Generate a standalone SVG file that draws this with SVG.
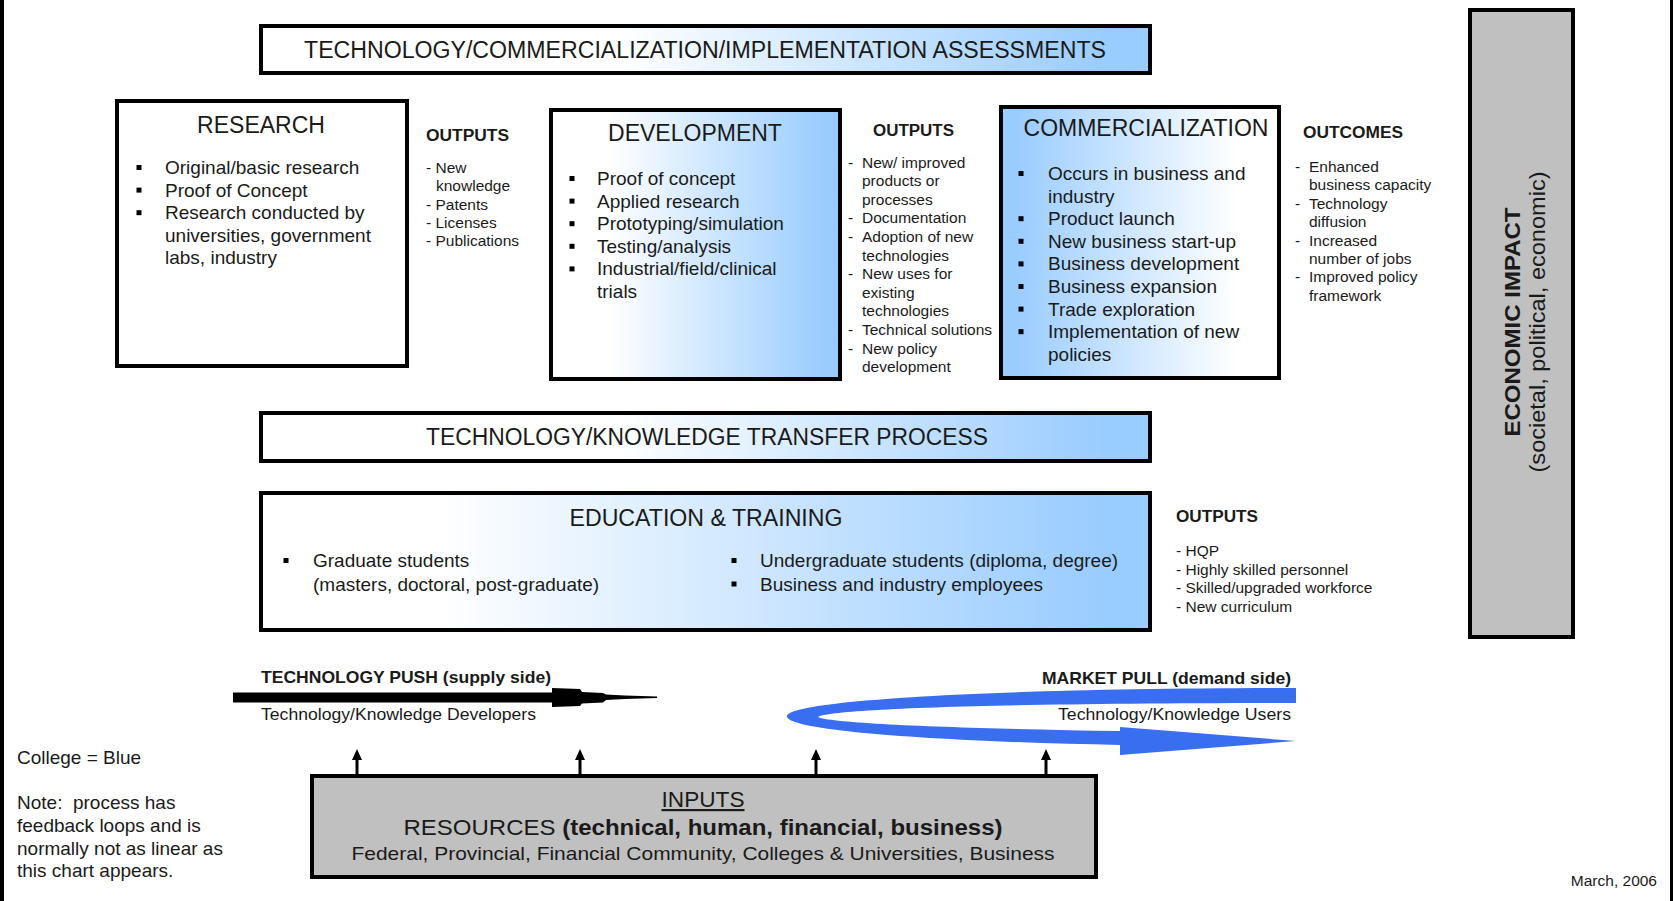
<svg xmlns="http://www.w3.org/2000/svg" width="1673" height="901" viewBox="0 0 1673 901">
  <style>
    text { font-family: "Liberation Sans", Arial, sans-serif; fill: #1a1a1a; }
    .box { stroke: #000; stroke-width: 4; }
    .title { font-size: 23px; text-anchor: middle; }
    .band { font-size: 23px; text-anchor: middle; }
    .item { font-size: 19px; }
    .small { font-size: 15.5px; }
    .head { font-size: 16px; font-weight: bold; }
    .lbl { font-size: 17px; }
    .bold { font-weight: bold; }
    .bullet { fill: #000; }
    .up { stroke: #000; stroke-width: 3; fill: none; }
    .uphead { fill: #000; }
  </style>
  <defs>
    <linearGradient id="toBlue" x1="0" y1="0" x2="1" y2="0">
      <stop offset="0" stop-color="#ffffff"/>
      <stop offset="0.2" stop-color="#ffffff"/>
      <stop offset="0.95" stop-color="#99ccff"/>
    </linearGradient>
    <linearGradient id="fromBlue" x1="0" y1="0" x2="1" y2="0">
      <stop offset="0.05" stop-color="#99ccff"/>
      <stop offset="0.85" stop-color="#ffffff"/>
      <stop offset="1" stop-color="#ffffff"/>
    </linearGradient>
    <linearGradient id="bandBlue" x1="0" y1="0" x2="1" y2="0">
      <stop offset="0" stop-color="#ffffff"/>
      <stop offset="0.4" stop-color="#ffffff"/>
      <stop offset="0.95" stop-color="#99ccff"/>
    </linearGradient>
  </defs>

  <rect width="1673" height="901" fill="#ffffff"/>
  <!-- page frame edges -->
  <rect x="0" y="0" width="4" height="901" fill="#000"/>
  <rect x="1670" y="0" width="3" height="901" fill="#000"/>

  <!-- assessments banner -->
  <g id="assessments">
    <rect class="box" x="261" y="26" width="889" height="47" fill="url(#bandBlue)"/>
    <text class="band" x="705" y="58" textLength="802" lengthAdjust="spacingAndGlyphs">TECHNOLOGY/COMMERCIALIZATION/IMPLEMENTATION ASSESSMENTS</text>
  </g>

  <!-- research -->
  <g id="research">
    <rect class="box" x="117" y="101" width="290" height="265" fill="#ffffff"/>
    <text class="title" x="261" y="133">RESEARCH</text>
    <rect class="bullet" x="136.5" y="165" width="5" height="5"/>
    <rect class="bullet" x="136.5" y="187.6" width="5" height="5"/>
    <rect class="bullet" x="136.5" y="210.2" width="5" height="5"/>
    <text class="item" x="165" y="174">Original/basic research</text>
    <text class="item" x="165" y="196.6">Proof of Concept</text>
    <text class="item" x="165" y="219.2">Research conducted by</text>
    <text class="item" x="165" y="241.8">universities, government</text>
    <text class="item" x="165" y="264.4">labs, industry</text>
  </g>

  <g id="research-outputs">
    <text class="head" x="426" y="141" textLength="83" lengthAdjust="spacingAndGlyphs">OUTPUTS</text>
    <text class="small" x="426" y="173">- New</text>
    <text class="small" x="436" y="191.3">knowledge</text>
    <text class="small" x="426" y="209.6">- Patents</text>
    <text class="small" x="426" y="227.9">- Licenses</text>
    <text class="small" x="426" y="246.2">- Publications</text>
  </g>

  <!-- development -->
  <g id="development">
    <rect class="box" x="551" y="110" width="289" height="269" fill="url(#toBlue)"/>
    <text class="title" x="695" y="141">DEVELOPMENT</text>
    <rect class="bullet" x="569.5" y="176" width="5" height="5"/>
    <rect class="bullet" x="569.5" y="198.6" width="5" height="5"/>
    <rect class="bullet" x="569.5" y="221.2" width="5" height="5"/>
    <rect class="bullet" x="569.5" y="243.8" width="5" height="5"/>
    <rect class="bullet" x="569.5" y="266.4" width="5" height="5"/>
    <text class="item" x="597" y="185">Proof of concept</text>
    <text class="item" x="597" y="207.6">Applied research</text>
    <text class="item" x="597" y="230.2">Prototyping/simulation</text>
    <text class="item" x="597" y="252.8">Testing/analysis</text>
    <text class="item" x="597" y="275.4">Industrial/field/clinical</text>
    <text class="item" x="597" y="298">trials</text>
  </g>

  <g id="development-outputs">
    <text class="head" x="873" y="136" textLength="81" lengthAdjust="spacingAndGlyphs">OUTPUTS</text>
    <text class="small" x="848" y="167.5">-</text>
    <text class="small" x="862" y="167.5">New/ improved</text>
    <text class="small" x="862" y="186.1">products or</text>
    <text class="small" x="862" y="204.7">processes</text>
    <text class="small" x="848" y="223.3">-</text>
    <text class="small" x="862" y="223.3">Documentation</text>
    <text class="small" x="848" y="241.9">-</text>
    <text class="small" x="862" y="241.9">Adoption of new</text>
    <text class="small" x="862" y="260.5">technologies</text>
    <text class="small" x="848" y="279.1">-</text>
    <text class="small" x="862" y="279.1">New uses for</text>
    <text class="small" x="862" y="297.7">existing</text>
    <text class="small" x="862" y="316.3">technologies</text>
    <text class="small" x="848" y="334.9">-</text>
    <text class="small" x="862" y="334.9">Technical solutions</text>
    <text class="small" x="848" y="353.5">-</text>
    <text class="small" x="862" y="353.5">New policy</text>
    <text class="small" x="862" y="372.1">development</text>
  </g>

  <!-- commercialization -->
  <g id="commercialization">
    <rect class="box" x="1001" y="107" width="278" height="271" fill="url(#fromBlue)"/>
    <text class="title" x="1146" y="136">COMMERCIALIZATION</text>
    <rect class="bullet" x="1018.5" y="171" width="5" height="5"/>
    <rect class="bullet" x="1018.5" y="216.2" width="5" height="5"/>
    <rect class="bullet" x="1018.5" y="238.8" width="5" height="5"/>
    <rect class="bullet" x="1018.5" y="261.4" width="5" height="5"/>
    <rect class="bullet" x="1018.5" y="284" width="5" height="5"/>
    <rect class="bullet" x="1018.5" y="306.6" width="5" height="5"/>
    <rect class="bullet" x="1018.5" y="329.2" width="5" height="5"/>
    <text class="item" x="1048" y="180">Occurs in business and</text>
    <text class="item" x="1048" y="202.6">industry</text>
    <text class="item" x="1048" y="225.2">Product launch</text>
    <text class="item" x="1048" y="247.8">New business start-up</text>
    <text class="item" x="1048" y="270.4">Business development</text>
    <text class="item" x="1048" y="293">Business expansion</text>
    <text class="item" x="1048" y="315.6">Trade exploration</text>
    <text class="item" x="1048" y="338.2">Implementation of new</text>
    <text class="item" x="1048" y="360.8">policies</text>
  </g>

  <g id="outcomes">
    <text class="head" x="1303" y="138" textLength="100" lengthAdjust="spacingAndGlyphs">OUTCOMES</text>
    <text class="small" x="1295" y="172">-</text>
    <text class="small" x="1309" y="172">Enhanced</text>
    <text class="small" x="1309" y="190.4">business capacity</text>
    <text class="small" x="1295" y="208.8">-</text>
    <text class="small" x="1309" y="208.8">Technology</text>
    <text class="small" x="1309" y="227.2">diffusion</text>
    <text class="small" x="1295" y="245.6">-</text>
    <text class="small" x="1309" y="245.6">Increased</text>
    <text class="small" x="1309" y="264">number of jobs</text>
    <text class="small" x="1295" y="282.4">-</text>
    <text class="small" x="1309" y="282.4">Improved policy</text>
    <text class="small" x="1309" y="300.8">framework</text>
  </g>

  <!-- economic impact column -->
  <g id="economic-impact">
    <rect class="box" x="1470" y="10" width="103" height="627" fill="#c0c0c0"/>
    <text class="bold" font-size="22" text-anchor="middle" transform="translate(1520,322) rotate(-90)" textLength="229" lengthAdjust="spacingAndGlyphs">ECONOMIC IMPACT</text>
    <text font-size="22" text-anchor="middle" transform="translate(1545,322) rotate(-90)" textLength="301" lengthAdjust="spacingAndGlyphs">(societal, political, economic)</text>
  </g>

  <!-- transfer process band -->
  <g id="transfer">
    <rect class="box" x="261" y="413" width="889" height="48" fill="url(#bandBlue)"/>
    <text class="band" x="707" y="445" textLength="562" lengthAdjust="spacingAndGlyphs">TECHNOLOGY/KNOWLEDGE TRANSFER PROCESS</text>
  </g>

  <!-- education and training -->
  <g id="education">
    <rect class="box" x="261" y="493" width="889" height="137" fill="url(#toBlue)"/>
    <text class="band" x="706" y="526" textLength="273" lengthAdjust="spacingAndGlyphs">EDUCATION &amp; TRAINING</text>
    <rect class="bullet" x="283.5" y="558" width="5" height="5"/>
    <text class="item" x="313" y="567">Graduate students</text>
    <text class="item" x="313" y="590.5">(masters, doctoral, post-graduate)</text>
    <rect class="bullet" x="731.5" y="558" width="5" height="5"/>
    <rect class="bullet" x="731.5" y="581.5" width="5" height="5"/>
    <text class="item" x="760" y="567">Undergraduate students (diploma, degree)</text>
    <text class="item" x="760" y="590.5">Business and industry employees</text>
  </g>

  <g id="education-outputs">
    <text class="head" x="1176" y="522" textLength="82" lengthAdjust="spacingAndGlyphs">OUTPUTS</text>
    <text class="small" x="1176" y="556">- HQP</text>
    <text class="small" x="1176" y="574.5">- Highly skilled personnel</text>
    <text class="small" x="1176" y="593">- Skilled/upgraded workforce</text>
    <text class="small" x="1176" y="611.5">- New curriculum</text>
  </g>

  <!-- inputs -->
  <g id="inputs">
    <rect class="box" x="312" y="776" width="784" height="101" fill="#c0c0c0"/>
    <text font-size="22" text-anchor="middle" x="703" y="807" text-decoration="underline" textLength="83" lengthAdjust="spacingAndGlyphs">INPUTS</text>
    <text font-size="22" text-anchor="middle" x="703" y="835" textLength="599" lengthAdjust="spacingAndGlyphs">RESOURCES <tspan class="bold">(technical, human, financial, business)</tspan></text>
    <text font-size="19" text-anchor="middle" x="703" y="860" textLength="703" lengthAdjust="spacingAndGlyphs">Federal, Provincial, Financial Community, Colleges &amp; Universities, Business</text>
  </g>

  <!-- push / pull flows -->
  <g id="technology-push">
    <text class="lbl bold" x="261" y="682.5" textLength="290" lengthAdjust="spacingAndGlyphs">TECHNOLOGY PUSH (supply side)</text>
    <text class="lbl" x="261" y="720" textLength="275" lengthAdjust="spacingAndGlyphs">Technology/Knowledge Developers</text>
  </g>
  <g id="market-pull">
    <text class="lbl bold" x="1291" y="683.5" text-anchor="end" textLength="249" lengthAdjust="spacingAndGlyphs">MARKET PULL (demand side)</text>
    <text class="lbl" x="1291" y="720" text-anchor="end" textLength="233" lengthAdjust="spacingAndGlyphs">Technology/Knowledge Users</text>
  </g>

  <g id="connectors">
    <!-- supply-side push arrow -->
    <polygon fill="#000" points="233,692.5 552,692.5 552,688 580,689 582,692 603,693 606,694.5 625,695.5 657,696.5 657,698 625,699 606,700 603,702.5 582,703.5 580,706 552,707 552,702.5 233,702.5"/>
    <!-- demand-side looping arrow -->
    <path fill="#3a6ef0" d="M1296 688 C1000 688 790 700 787 716 C785 732 960 742 1120 745 L1120 755 L1296 741 L1120 727 L1120 731 C980 729 830 724 818 717 C830 709 1000 703 1296 703 Z"/>
    <!-- resource inputs feeding upward -->
    <line class="up" x1="357" y1="776" x2="357" y2="758"/>
    <polygon class="uphead" points="357,749 352,760 362,760"/>
    <line class="up" x1="580" y1="776" x2="580" y2="758"/>
    <polygon class="uphead" points="580,749 575,760 585,760"/>
    <line class="up" x1="816" y1="776" x2="816" y2="758"/>
    <polygon class="uphead" points="816,749 811,760 821,760"/>
    <line class="up" x1="1046" y1="776" x2="1046" y2="758"/>
    <polygon class="uphead" points="1046,749 1041,760 1051,760"/>
  </g>

  <!-- notes -->
  <g id="notes">
    <text class="item" x="17" y="764">College = Blue</text>
    <text class="item" x="17" y="809">Note:&#160; process has</text>
    <text class="item" x="17" y="832">feedback loops and is</text>
    <text class="item" x="17" y="855">normally not as linear as</text>
    <text class="item" x="17" y="877">this chart appears.</text>
    <text class="small" x="1657" y="885.5" text-anchor="end">March, 2006</text>
  </g>
</svg>
